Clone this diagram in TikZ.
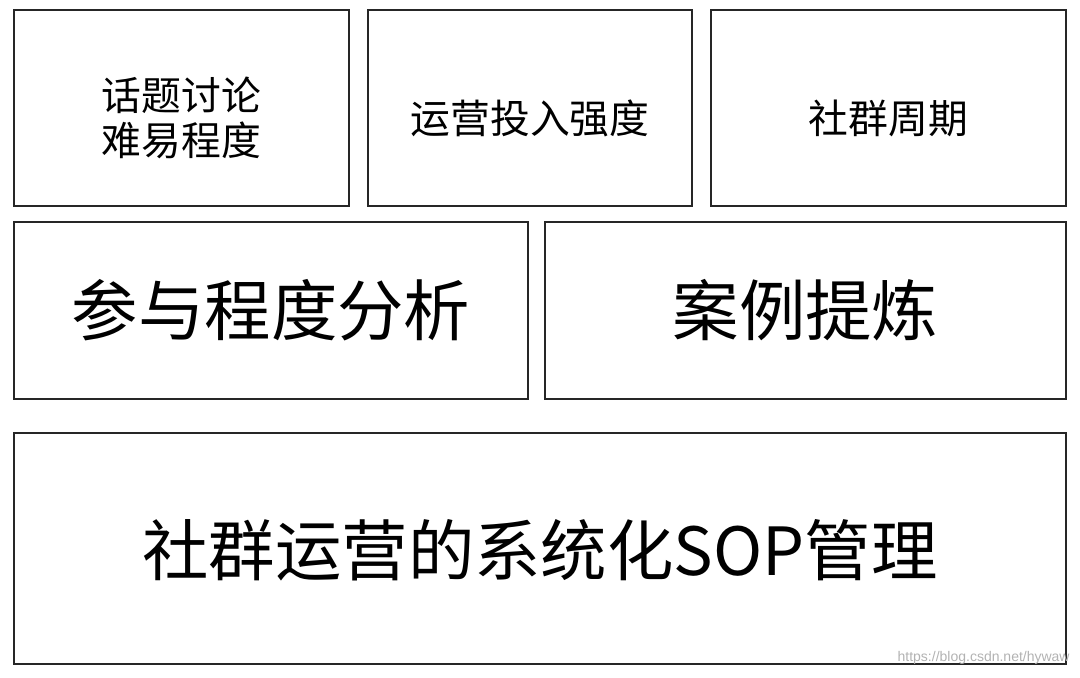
\documentclass[tikz,border=0pt]{standalone}
\usepackage{fontspec}
\setmainfont{Noto Sans CJK SC}
\newfontfamily\wmfont{Liberation Sans}
\begin{document}
\begin{tikzpicture}[x=0.5pt,y=-0.5pt,
  box/.style={draw=black!85, line width=0.8pt, inner sep=0pt},
  lbl/.style={inner sep=0pt, align=center, text=black},
  small/.style={lbl, font=\fontsize{19.9pt}{22.5pt}\selectfont},
  big/.style={lbl, font=\fontsize{33.2pt}{38pt}\selectfont}]
\useasboundingbox (0,0) rectangle (1080,677);
\node[box, minimum width=335*0.5pt, minimum height=196*0.5pt] (a) at (181.5,108) {};
\node[box, minimum width=324*0.5pt, minimum height=196*0.5pt] (b) at (530,108) {};
\node[box, minimum width=355*0.5pt, minimum height=196*0.5pt] (c) at (888.5,108) {};
\node[box, minimum width=514*0.5pt, minimum height=177*0.5pt] (d) at (271,310.5) {};
\node[box, minimum width=521*0.5pt, minimum height=177*0.5pt] (e) at (805.5,310.5) {};
\node[box, minimum width=1052*0.5pt, minimum height=231*0.5pt] (f) at (540,548.5) {};
\node[small] (at) at ([yshift=-5pt]a.center) {话题讨论\\难易程度};
\node[small] (bt) at ([yshift=-5pt]b.center) {运营投入强度};
\node[small] (ct) at ([yshift=-5pt]c.center) {社群周期};
\node[big] (dt) at (d.center) {参与程度分析};
\node[big] (et) at (e.center) {案例提炼};
\node[big] (ft) at ([yshift=-1pt]f.center) {社群运营的系统化SOP管理};
\node[anchor=south east, inner sep=0pt, text=black!30, font=\wmfont\fontsize{7pt}{8pt}\selectfont] (wm) at (1070,665) {https://blog.csdn.net/hywaw};
\end{tikzpicture}
\end{document}
